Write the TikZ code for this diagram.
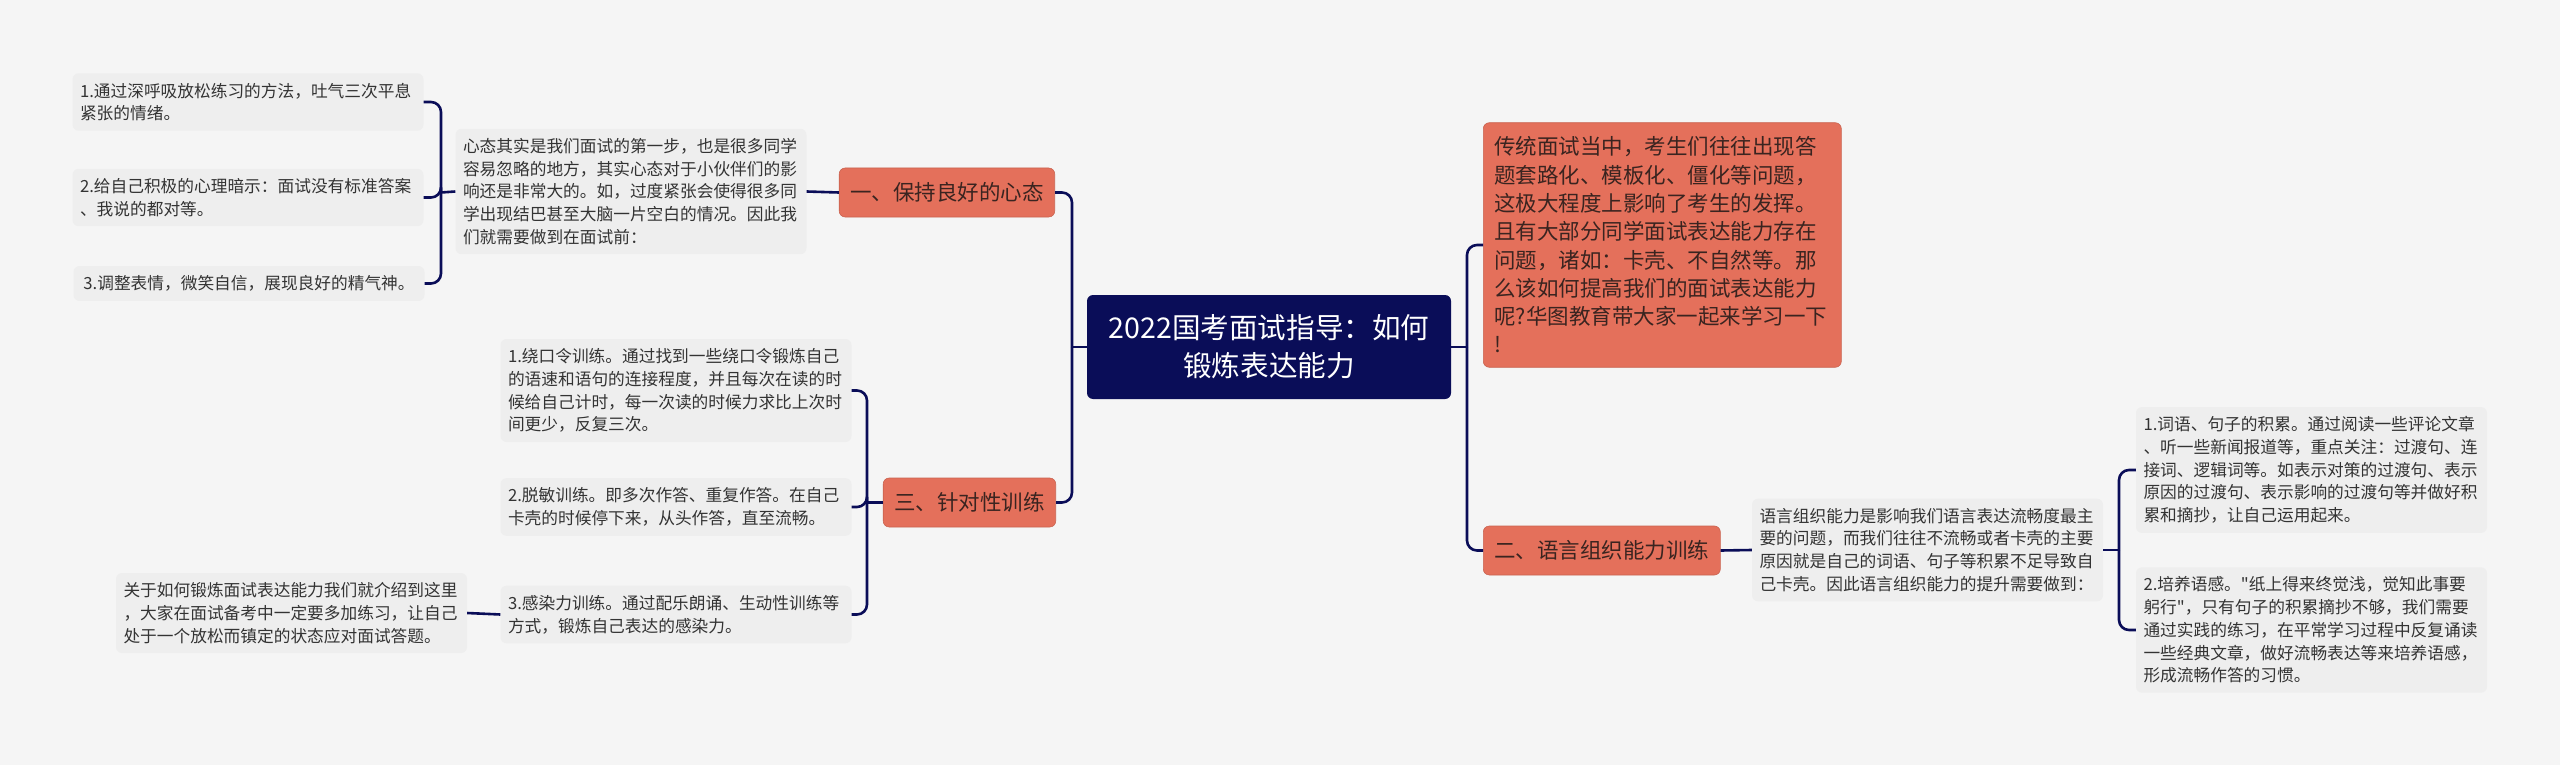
\documentclass[tikz,border=0pt]{standalone}
\usepackage{fontspec}
\newfontfamily\cjk{Noto Sans CJK SC}
\usepackage{xcolor}
\usepackage{tikz}
\definecolor{navyB}{RGB}{10,13,88}
\definecolor{branchO}{RGB}{228,112,91}
\definecolor{leafG}{RGB}{238,238,238}
\definecolor{paperG}{RGB}{245,245,245}
\definecolor{inkG}{RGB}{51,51,51}
\definecolor{inkO}{RGB}{58,36,32}

\begin{document}
\begin{tikzpicture}[
    x=1pt, y=-1pt,
    rootbox/.style={rectangle, rounded corners=6pt, fill=navyB, text=white, minimum width=364pt, minimum height=104pt, align=center, font=\cjk\fontsize{28.6}{38}\selectfont},
    branchbox/.style={rectangle, rounded corners=6pt, fill=branchO, draw=branchO!88!black, line width=0.6pt, text=inkO, inner xsep=11pt, minimum height=49pt, font=\cjk\fontsize{21.5}{28}\selectfont},
    introbox/.style={rectangle, rounded corners=6pt, fill=branchO, draw=branchO!88!black, line width=0.6pt, text=inkO, text width=336pt, inner xsep=11pt, inner ysep=14pt, align=left, font=\cjk\fontsize{21.5}{28.3}\selectfont},
    leafbox/.style={rectangle, rounded corners=6pt, fill=leafG, text=inkG, text width=336pt, inner xsep=7.5pt, inner ysep=9.5pt, align=left, font=\cjk\fontsize{16.7}{22.7}\selectfont},
    linkline/.style={draw=navyB, line width=2.6pt, rounded corners=10pt}
]
\useasboundingbox (0,0) rectangle (2560,765);
\fill[paperG] (0,0) rectangle (2560,765);

\node[rootbox] (root) at (1269,347) {2022国考面试指导：如何\\锻炼表达能力};

\node[branchbox, anchor=east] (mind) at (1055,192.5) {一、保持良好的心态};
\node[leafbox] (mindDesc) at (631,191.5) {心态其实是我们面试的第一步，也是很多同学\\容易忽略的地方，其实心态对于小伙伴们的影\\响还是非常大的。如，过度紧张会使得很多同\\学出现结巴甚至大脑一片空白的情况。因此我\\们就需要做到在面试前：};
\node[leafbox] (mindA) at (248,102) {1.通过深呼吸放松练习的方法，吐气三次平息\\紧张的情绪。};
\node[leafbox] (mindB) at (248,197.5) {2.给自己积极的心理暗示：面试没有标准答案\\、我说的都对等。};
\node[leafbox, align=center] (mindC) at (249,283.5) {3.调整表情，微笑自信，展现良好的精气神。};

\node[branchbox, anchor=east] (drill) at (1056,502.5) {三、针对性训练};
\node[leafbox] (drillA) at (676,390.5) {1.绕口令训练。通过找到一些绕口令锻炼自己\\的语速和语句的连接程度，并且每次在读的时\\候给自己计时，每一次读的时候力求比上次时\\间更少，反复三次。};
\node[leafbox] (drillB) at (676,507) {2.脱敏训练。即多次作答、重复作答。在自己\\卡壳的时候停下来，从头作答，直至流畅。};
\node[leafbox] (drillC) at (676,614.5) {3.感染力训练。通过配乐朗诵、生动性训练等\\方式，锻炼自己表达的感染力。};
\node[leafbox] (ending) at (291.5,613) {关于如何锻炼面试表达能力我们就介绍到这里\\，大家在面试备考中一定要多加练习，让自己\\处于一个放松而镇定的状态应对面试答题。};

\node[introbox, anchor=west] (intro) at (1483,245) {传统面试当中，考生们往往出现答\\题套路化、模板化、僵化等问题，\\这极大程度上影响了考生的发挥。\\且有大部分同学面试表达能力存在\\问题，诸如：卡壳、不自然等。那\\么该如何提高我们的面试表达能力\\呢?华图教育带大家一起来学习一下\\!};

\node[branchbox, anchor=west] (lang) at (1483,550.5) {二、语言组织能力训练};
\node[leafbox] (langDesc) at (1927.5,550) {语言组织能力是影响我们语言表达流畅度最主\\要的问题，而我们往往不流畅或者卡壳的主要\\原因就是自己的词语、句子等积累不足导致自\\己卡壳。因此语言组织能力的提升需要做到：};
\node[leafbox] (langA) at (2311.5,470) {1.词语、句子的积累。通过阅读一些评论文章\\、听一些新闻报道等，重点关注：过渡句、连\\接词、逻辑词等。如表示对策的过渡句、表示\\原因的过渡句、表示影响的过渡句等并做好积\\累和摘抄，让自己运用起来。};
\node[leafbox] (langB) at (2311.5,630) {2.培养语感。"纸上得来终觉浅，觉知此事要\\躬行"，只有句子的积累摘抄不够，我们需要\\通过实践的练习，在平常学习过程中反复诵读\\一些经典文章，做好流畅表达等来培养语感，\\形成流畅作答的习惯。};

\coordinate (leftFork) at (1072,347);
\coordinate (rightFork) at (1467,347);
\coordinate (mindFork) at (441,192.5);
\coordinate (drillFork) at (867,502.5);
\coordinate (langFork) at (2119,550);

\draw[linkline] (root.west) -- (leftFork);
\draw[linkline] (leftFork) |- (mind.east);
\draw[linkline] (leftFork) |- (drill.east);
\draw[linkline] (mind.west) -- (mindDesc.east);
\draw[linkline] (mindDesc.west) -- (mindFork);
\draw[linkline] (mindFork) |- (mindA.east);
\draw[linkline] (mindFork) |- (mindB.east);
\draw[linkline] (mindFork) |- (mindC.east);
\draw[linkline] (drill.west) -- (drillFork);
\draw[linkline] (drillFork) |- (drillA.east);
\draw[linkline] (drillFork) |- (drillB.east);
\draw[linkline] (drillFork) |- (drillC.east);
\draw[linkline] (drillC.west) -- (ending.east);

\draw[linkline] (root.east) -- (rightFork);
\draw[linkline] (rightFork) |- (intro.west);
\draw[linkline] (rightFork) |- (lang.west);
\draw[linkline] (lang.east) -- (langDesc.west);
\draw[linkline] (langDesc.east) -- (langFork);
\draw[linkline] (langFork) |- (langA.west);
\draw[linkline] (langFork) |- (langB.west);
\end{tikzpicture}
\end{document}
